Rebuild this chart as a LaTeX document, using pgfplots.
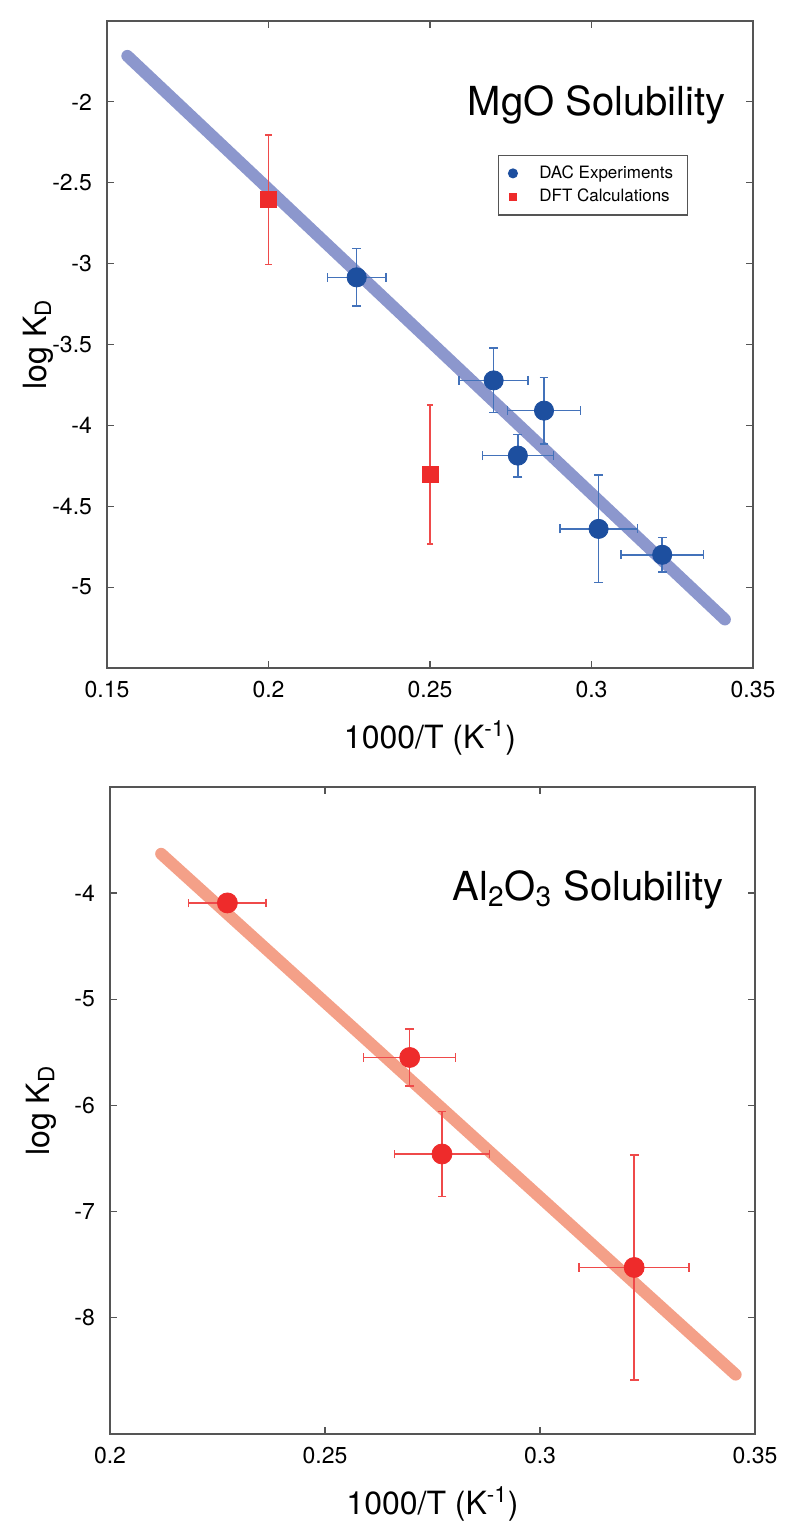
\documentclass[border=0pt]{standalone}
\usepackage{fontspec}
\setmainfont{TeX Gyre Heros}
\usepackage{pgfplots}
\pgfplotsset{compat=1.18}
\usepackage{pgfplotstable}

\definecolor{fitblue}{HTML}{8C97CD}
\definecolor{dacblue}{HTML}{1D4F9F}
\definecolor{errblue}{HTML}{4372BA}
\definecolor{dftred}{HTML}{EE2B2B}
\definecolor{errred}{HTML}{EF4A4A}
\definecolor{fitred}{HTML}{F4A088}
\definecolor{axgray}{HTML}{555555}

\pgfplotstableread{
x y ex ey
0.2273 -3.085 0.0090 0.177
0.2697 -3.722 0.0107 0.200
0.2772 -4.187 0.0110 0.132
0.2853 -3.909 0.0113 0.205
0.3022 -4.640 0.0120 0.333
0.3219 -4.800 0.0128 0.108
}\dacMgO

\pgfplotstableread{
x y ey
0.20 -2.605 0.40
0.25 -4.305 0.43
}\dftMgO

\pgfplotstableread{
x y ex ey
0.2273 -4.093 0.0090 0.00
0.2697 -5.550 0.0107 0.27
0.2772 -6.460 0.0110 0.40
0.3219 -7.530 0.0128 1.06
}\dacAl

\pgfplotsset{
  mystyle/.style={
    scale only axis,
    axis line style={axgray, line width=0.6pt},
    tick style={axgray, line width=0.6pt},
    tick align=inside,
    major tick length=3.5pt,
    ticklabel style={font=\fontsize{11.5}{13}\selectfont, text=black},
    /pgf/number format/assume math mode=true,
    /pgf/number format/fixed,
    label style={font=\fontsize{16}{19}\selectfont},
    xticklabel style={yshift=-3pt},
    yticklabel style={xshift=-4pt},
    xlabel style={at={(axis description cs:0.5,-0.108)}, anchor=center},
    ylabel style={at={(axis description cs:-0.107,0.5)}, anchor=center},
  }
}

\begin{document}
\begin{tikzpicture}
\useasboundingbox (0,0) rectangle (400pt,762.5pt);

% ---------- Top: MgO ----------
\begin{axis}[mystyle,
  at={(53.5pt,428.5pt)}, anchor=south west,
  width=323pt, height=323.5pt,
  xmin=0.15, xmax=0.35, ymin=-5.5, ymax=-1.5,
  xtick={0.15,0.2,0.25,0.3,0.35},
  ytick={-5,-4.5,-4,-3.5,-3,-2.5,-2},
  xlabel={1000/T (K\textsuperscript{-1})},
  ylabel={log K\textsubscript{D}},
  legend style={at={(rel axis cs:0.899,0.793)}, anchor=north east,
    draw=axgray, line width=0.6pt, font=\fontsize{8.5}{10}\selectfont,
    inner xsep=5pt, inner ysep=3pt, row sep=0pt,
    /tikz/every odd column/.append style={column sep=9pt}},
  legend cell align=left,
]
\addplot[fitblue, line width=6pt, line cap=round, forget plot]
  coordinates {(0.1563,-1.716) (0.3413,-5.200)};
\addplot[only marks, mark=*, mark size=4.8pt, color=dacblue,
  mark options={fill=dacblue, draw=dacblue},
  legend image post style={mark size=2.2pt},
  error bars/.cd, x dir=both, x explicit, y dir=both, y explicit,
  error bar style={errblue, line width=0.75pt},
  error mark options={rotate=90, errblue, mark size=2.2pt, line width=0.75pt}]
  table[x=x, y=y, x error=ex, y error=ey] {\dacMgO};
\addlegendentry{DAC Experiments}
\addplot[only marks, mark=square*, mark size=4pt, color=dftred,
  mark options={fill=dftred, draw=dftred},
  legend image post style={mark size=1.8pt},
  error bars/.cd, y dir=both, y explicit,
  error bar style={errred, line width=0.75pt},
  error mark options={rotate=90, errred, mark size=1.6pt, line width=0.75pt}]
  table[x=x, y=y, y error=ey] {\dftMgO};
\addlegendentry{DFT Calculations}
\node[font=\fontsize{20}{24}\selectfont] at (rel axis cs:0.758,0.870) {MgO Solubility};
\end{axis}

% ---------- Bottom: Al2O3 ----------
\begin{axis}[mystyle,
  at={(55pt,45.5pt)}, anchor=south west,
  width=322.5pt, height=323.5pt,
  xmin=0.2, xmax=0.35, ymin=-9.1, ymax=-3,
  xtick={0.2,0.25,0.3,0.35},
  ytick={-8,-7,-6,-5,-4},
  xlabel={1000/T (K\textsuperscript{-1})},
  ylabel={log K\textsubscript{D}},
]
\addplot[fitred, line width=6pt, line cap=round]
  coordinates {(0.2119,-3.63) (0.3455,-8.54)};
\addplot[only marks, mark=*, mark size=5pt, color=dftred,
  mark options={fill=dftred, draw=dftred},
  error bars/.cd, x dir=both, x explicit, y dir=both, y explicit,
  error bar style={errred, line width=0.75pt},
  error mark options={rotate=90, errred, mark size=2.2pt, line width=0.75pt}]
  table[x=x, y=y, x error=ex, y error=ey] {\dacAl};
\node[font=\fontsize{20}{24}\selectfont] at (rel axis cs:0.741,0.841)
  {Al\textsubscript{2}O\textsubscript{3} Solubility};
\end{axis}
\end{tikzpicture}
\end{document}
